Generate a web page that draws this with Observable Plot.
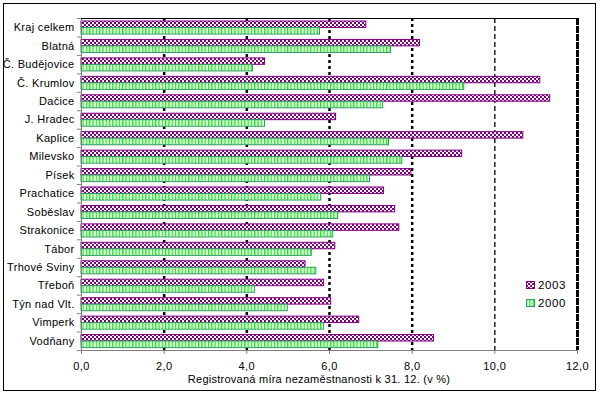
<!DOCTYPE html>
<html><head><meta charset="utf-8">
<script src="https://cdn.jsdelivr.net/npm/d3@7"></script>
<script src="https://cdn.jsdelivr.net/npm/@observablehq/plot@0.6"></script>
<style>
body{margin:0;background:#fff;font-family:"Liberation Sans",Arial,sans-serif;}
#wrap{position:relative;width:602px;height:397px;overflow:hidden;}
#border{position:absolute;left:3px;top:3px;width:591px;height:386px;border:1px solid #000;}
#chart{position:absolute;left:0;top:0;}
#chart g[aria-label="y-axis tick label"] text{letter-spacing:0.3px;}
#chart g[aria-label="x-axis tick label"] text{letter-spacing:0.4px;}
#xlabel{position:absolute;left:319px;top:373px;transform:translateX(-50%);font-size:11px;white-space:nowrap;color:#000;letter-spacing:0.25px;}
#legend{position:absolute;left:526px;top:276px;font-size:11.5px;letter-spacing:0.6px;}
#legend .row{display:flex;align-items:center;height:18px;}
#legend svg{margin-right:3px;}
</style></head>
<body>
<div id="wrap">
  <div id="border"></div>
  <div id="chart"></div>
  <div id="xlabel"></div>
  <div id="legend"></div>
</div>
<script>
const categories = ["Kraj celkem","Blatná","Č. Budějovice","Č. Krumlov","Dačice","J. Hradec","Kaplice","Milevsko","Písek","Prachatice","Soběslav","Strakonice","Tábor","Trhové Sviny","Třeboň","Týn nad Vlt.","Vimperk","Vodňany"];
const values2003 = [6.89, 8.19, 4.44, 11.10, 11.34, 6.16, 10.69, 9.21, 7.98, 7.32, 7.59, 7.69, 6.14, 5.42, 5.87, 6.04, 6.72, 8.53];
const values2000 = [5.77, 7.49, 4.15, 9.26, 7.30, 4.44, 7.44, 7.76, 6.98, 5.80, 6.21, 6.09, 5.57, 5.68, 4.20, 4.99, 5.87, 7.18];
const seriesNames = ["2003", "2000"];
const xTicks = [0, 2, 4, 6, 8, 10, 12];
const gridMajor = [2, 4, 6, 8];
const gridMid = [10];
const gridEnd = [12];
const xLabel = "Registrovaná míra nezaměstnanosti k 31. 12. (v %)";

const rows2003 = categories.map((c, i) => ({c, v: values2003[i]}));
const rows2000 = categories.map((c, i) => ({c, v: values2000[i]}));

const W = 602, H = 397, mL = 81, mR = 25, mT = 18, mB = 47;
const bw = (H - mT - mB) / categories.length;
const fmt = d => d.toFixed(1).replace(".", ",");

const svg = Plot.plot({
  width: W, height: H,
  marginLeft: mL, marginRight: mR, marginTop: mT, marginBottom: mB,
  style: {fontFamily: "'Liberation Sans', Arial, sans-serif", fontSize: "11px", color: "#000", background: "transparent", overflow: "visible"},
  x: {domain: [0, 12]},
  y: {domain: categories, padding: 0, round: false},
  marks: [
    Plot.ruleX(gridMajor, {x: d => d, stroke: "#000", strokeWidth: 2.5, strokeDasharray: "3,3"}),
    Plot.ruleX(gridMid, {x: d => d, stroke: "#000", strokeWidth: 1.3, strokeDasharray: "5,3"}),
    Plot.ruleX(gridEnd, {x: d => d, stroke: "#000", strokeWidth: 3, strokeDasharray: "7,1"}),
    Plot.barX(rows2003, {x: "v", y: "c", fill: "url(#chk)", stroke: "#800080", strokeWidth: 1, insetTop: 3, insetBottom: 9}),
    Plot.barX(rows2000, {x: "v", y: "c", fill: "url(#vst)", stroke: "#339966", strokeWidth: 1, insetTop: 9.5, insetBottom: 2.4}),
    Plot.ruleX([0], {x: d => d, stroke: "#808080", strokeWidth: 1}),
    Plot.ruleY(categories.slice(-1), {y: d => d, x1: 0, x2: 12, dy: bw / 2, stroke: "#808080"}),
    Plot.ruleY(categories.slice(0, 1), {y: d => d, x1: 0, x2: 12, dy: -bw / 2, stroke: "#000"}),
    Plot.ruleY(categories, {y: d => d, x1: -0.1, x2: 0, dy: -bw / 2, stroke: "#808080"}),
    Plot.ruleY(categories.slice(-1), {y: d => d, x1: -0.1, x2: 0, dy: bw / 2, stroke: "#808080"}),
    Plot.axisY({tickSize: 0, tickPadding: 7, label: null, fill: "#000"}),
    Plot.axisX({ticks: xTicks, tickFormat: fmt, tickSize: 4, tickPadding: 8, stroke: "#808080", fill: "#000", label: null})
  ]
});

const defs = document.createElementNS("http://www.w3.org/2000/svg", "defs");
defs.innerHTML = `
<pattern id="chk" width="4" height="4" patternUnits="userSpaceOnUse">
  <rect width="4" height="4" fill="#fff"/>
  <rect width="2" height="2" fill="#800080"/>
  <rect x="2" y="2" width="2" height="2" fill="#800080"/>
</pattern>
<pattern id="vst" width="3.3" height="4" patternUnits="userSpaceOnUse">
  <rect width="3.3" height="4" fill="#fff"/>
  <rect width="1.3" height="4" fill="#00ff00"/>
</pattern>`;
svg.insertBefore(defs, svg.firstChild);
document.getElementById("chart").appendChild(svg);

document.getElementById("xlabel").textContent = xLabel;

const legendStyles = {"2003": {fill: "url(#chk)", stroke: "#800080"}, "2000": {fill: "url(#vst)", stroke: "#339966"}};
const leg = document.getElementById("legend");
seriesNames.forEach(s => {
  const row = document.createElement("div");
  row.className = "row";
  row.innerHTML = `<svg width="9" height="8"><rect x="0.5" y="0.5" width="8" height="7" fill="${legendStyles[s].fill}" stroke="${legendStyles[s].stroke}"/></svg><span>${s}</span>`;
  leg.appendChild(row);
});
</script>
</body></html>
